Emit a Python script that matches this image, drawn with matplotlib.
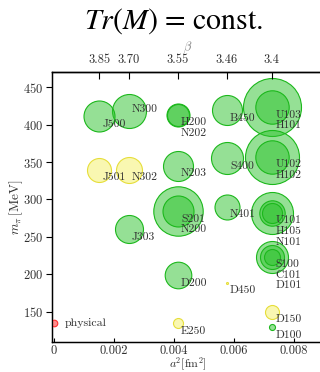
import matplotlib
matplotlib.use("Agg")
import matplotlib.pyplot as plt
import numpy as np

plt.rcParams['mathtext.fontset'] = 'cm'
plt.rcParams['font.family'] = 'cmr10'
plt.rcParams['axes.formatter.use_mathtext'] = True

# lattice spacing a^2 [fm^2] for each beta
betas = [3.85, 3.70, 3.55, 3.46, 3.4]
beta_labels = ["3.85", "3.70", "3.55", "3.46", "3.4"]
a2_values = [0.00152, 0.00250, 0.00413, 0.00576, 0.00727]

# ensembles: name, beta, m_pi [MeV], bubble radius, colour group
names = ["J500", "J501", "N300", "N302", "J303",
         "H200", "N202", "N203", "S201", "N200", "D200", "E250",
         "B450", "S400", "N401", "D450",
         "U103", "H101", "U102", "H102", "U101", "H105", "N101",
         "S100", "C101", "D101", "D150", "D100"]
ens_beta = [3.85, 3.85, 3.70, 3.70, 3.70,
            3.55, 3.55, 3.55, 3.55, 3.55, 3.55, 3.55,
            3.46, 3.46, 3.46, 3.46,
            3.4, 3.4, 3.4, 3.4, 3.4, 3.4, 3.4,
            3.4, 3.4, 3.4, 3.4, 3.4]
mpi = [411, 340, 418, 340, 260,
       413, 413, 345, 284, 284, 198.5, 134.5,
       419, 355, 290, 189,
       423, 423, 357, 357, 282, 282, 282,
       223.5, 223.5, 223.5, 150, 129]
bubble = [15.5, 12, 17, 13, 14,
          11.5, 11, 15, 15.5, 24.7, 13.3, 5,
          15, 16, 12.5, 1,
          16.7, 29, 16.7, 27, 10, 12.7, 21,
          8, 12, 16, 7, 3]
group = ["g", "y", "g", "y", "g",
         "g", "g", "g", "g", "g", "g", "y",
         "g", "g", "g", "y",
         "g", "g", "g", "g", "g", "g", "g",
         "g", "g", "g", "y", "g"]

phys_a2 = 0.0
phys_mpi = 134.8

xticks = [0, 0.002, 0.004, 0.006, 0.008]
xtick_labels = ["0", "0.002", "0.004", "0.006", "0.008"]
yticks = [150, 200, 250, 300, 350, 400, 450]

fill = {"g": (45/255, 195/255, 45/255, 0.5), "y": (240/255, 235/255, 60/255, 0.4)}
edge = {"g": "#1cb81c", "y": "#e6de3a"}

px = 0.72  # points per pixel at dpi 100

fig = plt.figure(figsize=(3.2, 3.72), dpi=100)
ax = fig.add_axes([52/320, 30.4/372, 271.8/320, 269.3/372])

a2_of = dict(zip(betas, a2_values))
xs = np.array([a2_of[b] for b in ens_beta])
order = np.argsort(bubble)[::-1]
for i in order:
    ax.scatter(xs[i], mpi[i], s=(2*bubble[i]*px)**2, facecolor=fill[group[i]],
               edgecolor=edge[group[i]], linewidth=0.8, zorder=2)

ax.scatter(phys_a2, phys_mpi, s=(2*3.3*px)**2, facecolor=(1, 0.25, 0.25, 0.6),
           edgecolor="#ff3030", linewidth=0.8, zorder=3)
ax.annotate("physical", (phys_a2, phys_mpi), xytext=(10.6*px, 0),
            textcoords="offset points", fontsize=8.6, color="#303030",
            va="center", ha="left")

# stacked labels below right of each point
stack = {}
for i, n in enumerate(names):
    key = (ens_beta[i], mpi[i])
    k = stack.get(key, 0)
    stack[key] = k + 1
    dy = -(7.5 + 10.7*k)*px
    if n == "N300":
        dy = 2.3*px
    ax.annotate(n, (xs[i], mpi[i]), xytext=(3.3*px, dy),
                textcoords="offset points", fontsize=8.3, color="#303030",
                va="center", ha="left", zorder=5)

ax.set_xlim(-0.00006, 0.009)
ax.set_ylim(110, 470)
ax.set_xticks(xticks)
ax.set_xticklabels(xtick_labels)
ax.set_yticks(yticks)
ax.tick_params(axis='x', direction='in', length=3.2, width=0.8, pad=2.6,
               labelsize=9, labelcolor="#303030")
ax.tick_params(axis='y', direction='out', length=4.2, width=0.8, pad=2.2,
               labelsize=9, labelcolor="#303030")
ax.spines['right'].set_visible(False)
for s in ['left', 'bottom', 'top']:
    ax.spines[s].set_linewidth(1.0)
ax.set_xlabel(r"$a^2[\mathrm{fm}^2]$", fontsize=8.5, color="#303030", va="center")
ax.xaxis.set_label_coords(0.5, -0.085)
ax.set_ylabel(r"$m_\pi\,[\mathrm{MeV}]$", fontsize=9.5, color="#303030", va="center")
ax.yaxis.set_label_coords(-0.132, 0.5)

ax2 = ax.twiny()
ax2.set_xlim(ax.get_xlim())
ax2.set_xticks(a2_values)
ax2.set_xticklabels(beta_labels)
ax2.tick_params(axis='x', direction='in', length=4.8, width=0.8, pad=4.7,
                labelsize=9, labelcolor="#303030")
ax2.spines['right'].set_visible(False)
ax2.spines['top'].set_linewidth(1.0)
ax2.set_xlabel(r"$\beta$", fontsize=9, color="#808080", labelpad=3)

fig.text(173/320, 1 - 28.5/372, r"$Tr(M)$ = const.", fontsize=21.5,
         fontfamily='STIXGeneral', math_fontfamily='stix',
         ha='center', va='baseline')

fig.savefig("out.png", dpi=100)
